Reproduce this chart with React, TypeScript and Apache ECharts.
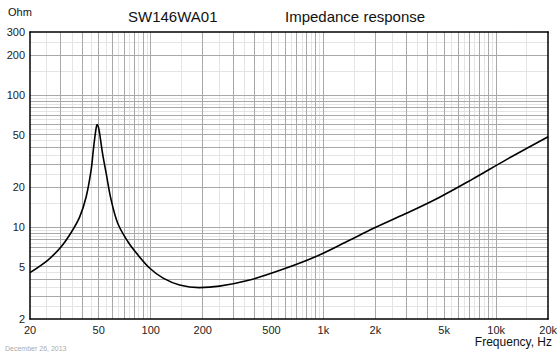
import React, { useEffect, useRef } from "react";
import * as echarts from "echarts";

const freqHz = [
  20, 25.4, 30.3, 34.7, 38.8, 42.3, 45.2, 46.5, 47.5, 48.3, 48.9, 49.6, 50.5, 52.6,
  55.2, 59, 64.5, 73.8, 82.8, 98.8, 118, 147, 191, 250, 374, 582, 906, 1414, 1938,
  3000, 4680, 7300, 11400, 20000,
];
const impedanceOhm = [
  4.5, 5.6, 7.07, 9.1, 11.9, 16.9, 27, 38, 48, 56, 59.5, 58, 52, 36,
  25.5, 16, 10.6, 7.7, 6.3, 4.85, 4.08, 3.62, 3.46, 3.55, 3.95, 4.76, 5.95, 7.9, 9.7,
  12.6, 16.7, 23.0, 32.2, 48.2,
];

const xTickLabels = [20, 50, 100, 200, 500, 1000, 2000, 5000, 10000, 20000];
const yTickLabels = [2, 5, 10, 20, 50, 100, 200, 300];

const xMajorGrid = [
  30, 40, 50, 60, 70, 80, 90, 100, 200, 300, 400, 500, 600, 700, 800, 900, 1000,
  2000, 3000, 4000, 5000, 6000, 7000, 8000, 9000, 10000,
];
const xMinorGrid = [
  25, 35, 45, 55, 65, 75, 85, 95, 150, 250, 350, 450, 550, 650, 750, 850, 950,
  1500, 2500, 3500, 4500, 5500, 6500, 7500, 8500, 9500, 15000,
];
const yMajorGrid = [3, 4, 5, 6, 7, 8, 9, 10, 20, 30, 40, 50, 60, 70, 80, 90, 100, 200];
const yMinorGrid = [
  2.5, 3.5, 4.5, 5.5, 6.5, 7.5, 8.5, 9.5, 15, 25, 35, 45, 55, 65, 75, 85, 95, 150, 250,
];

const FONT = "Liberation Sans, Arial, sans-serif";

export default function App() {
  const ref = useRef<HTMLDivElement>(null);
  useEffect(() => {
    if (!ref.current) return;
    const chart = echarts.init(ref.current, null, { renderer: "svg" });
    const fmtX = (v: number) => (v >= 1000 ? `${Math.round(v / 1000)}k` : `${Math.round(v)}`);
    const axisBlack = { show: true, lineStyle: { color: "#000", width: 1.5 } };
    chart.setOption({
      animation: false,
      backgroundColor: "#fff",
      textStyle: { fontFamily: FONT },
      grid: { left: 30, top: 32, right: 11, bottom: 35, containLabel: false },
      xAxis: [
        {
          type: "log",
          logBase: 10,
          min: 20,
          max: 20000,
          z: 8,
          axisLine: axisBlack,
          axisTick: { show: false },
          splitLine: { show: false },
          minorSplitLine: { show: false },
          axisLabel: {
            customValues: xTickLabels,
            formatter: fmtX,
            color: "#222",
            fontSize: 11,
            fontFamily: FONT,
            margin: 5,
            showMinLabel: true,
            showMaxLabel: true,
          },
        },
        {
          type: "log",
          logBase: 10,
          min: 20,
          max: 20000,
          position: "top",
          z: 8,
          axisLine: axisBlack,
          axisTick: { show: false },
          axisLabel: { show: false },
          splitLine: { show: false },
        },
      ],
      yAxis: [
        {
          type: "log",
          logBase: 10,
          min: 2,
          max: 300,
          z: 8,
          axisLine: axisBlack,
          axisTick: { show: false },
          splitLine: { show: false },
          axisLabel: {
            customValues: yTickLabels,
            color: "#222",
            fontSize: 11,
            fontFamily: FONT,
            margin: 5,
            showMinLabel: true,
            showMaxLabel: true,
          },
        },
        {
          type: "log",
          logBase: 10,
          min: 2,
          max: 300,
          position: "right",
          z: 8,
          axisLine: axisBlack,
          axisTick: { show: false },
          axisLabel: { show: false },
          splitLine: { show: false },
        },
      ],
      series: [
        {
          type: "line",
          data: [],
          z: 1,
          silent: true,
          markLine: {
            z: 1,
            silent: true,
            symbol: "none",
            label: { show: false },
            lineStyle: { color: "#e4e4e4", width: 1, type: "solid" },
            data: [
              ...xMinorGrid.map((v) => ({ xAxis: v })),
              ...yMinorGrid.map((v) => ({ yAxis: v })),
            ],
          },
        },
        {
          type: "line",
          data: [],
          z: 2,
          silent: true,
          markLine: {
            z: 2,
            silent: true,
            symbol: "none",
            label: { show: false },
            lineStyle: { color: "#a8a8a8", width: 1, type: "solid" },
            data: [
              ...xMajorGrid.map((v) => ({ xAxis: v })),
              ...yMajorGrid.map((v) => ({ yAxis: v })),
            ],
          },
        },
        {
          type: "line",
          z: 6,
          data: freqHz.map((f, i) => [f, impedanceOhm[i]]),
          showSymbol: false,
          smooth: 0.35,
          lineStyle: { color: "#000", width: 1.6 },
        },
      ],
      graphic: [
        {
          type: "text",
          left: 8,
          top: 6,
          style: { text: "Ohm", font: `11px ${FONT}`, fill: "#111" },
        },
        {
          type: "text",
          left: 128,
          top: 9,
          style: { text: "SW146WA01", font: `15px ${FONT}`, fill: "#111" },
        },
        {
          type: "text",
          left: 285,
          top: 9,
          style: { text: "Impedance response", font: `15px ${FONT}`, fill: "#111" },
        },
        {
          type: "text",
          right: 8,
          top: 336,
          style: { text: "Frequency, Hz", font: `12px ${FONT}`, fill: "#111" },
        },
        {
          type: "text",
          left: 5,
          top: 345,
          style: { text: "December 26, 2013", font: `7px ${FONT}`, fill: "#aaa" },
        },
      ],
    });
    return () => chart.dispose();
  }, []);
  return <div ref={ref} style={{ width: 560, height: 354, position: "fixed", left: 0, top: 0 }} />;
}
